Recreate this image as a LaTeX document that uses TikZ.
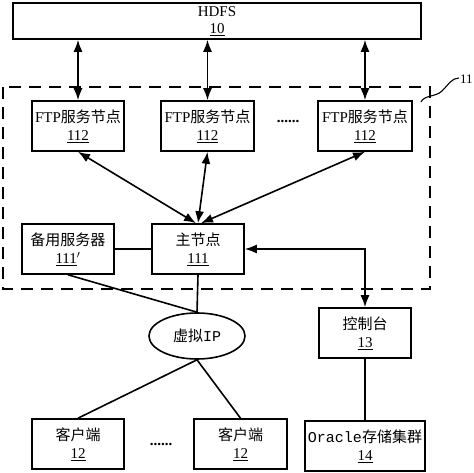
\documentclass[tikz,border=0pt]{standalone}
\usepackage{fontspec}
\setmainfont{Liberation Serif}
\newfontfamily\cjk{Noto Sans CJK SC}
\newfontfamily\monof{Liberation Mono}
\usetikzlibrary{arrows.meta,shapes.geometric}
\newcommand\zh[1]{{\cjk #1}}
\begin{document}
\begin{tikzpicture}[x=1pt,y=-1pt,
  every node/.style={font=\fontsize{15}{18.5}\selectfont},
  box/.style={draw,line width=1.6pt,rectangle,inner sep=0pt,minimum height=50pt,align=center},
  conn/.style={line width=1.6pt},
  biarrow/.style={line width=1.6pt,{Latex[length=12pt,width=9pt]}-{Latex[length=12pt,width=9pt]}},
  dashbox/.style={line width=1.6pt,dash pattern=on 12pt off 8pt}]
\useasboundingbox (0,0) rectangle (474,473);
% group 11
\draw[dashbox] (3,87) rectangle (430,289);
\draw[line width=1.1pt] (421,102) .. controls (424,95) and (436,97) .. (442,91) .. controls (449,84) and (452,78) .. (459,78);
\node[font=\fontsize{13}{15}\selectfont,anchor=west,inner sep=1pt] (lbl11) at (459,79) {11};
% nodes
\node[box,minimum width=408pt,minimum height=36pt] (hdfs) at (217,21) {HDFS\\[-1pt]\underline{10}};
\node[box,minimum width=92pt] (ftp1) at (78,126) {FTP\zh{服务节点}\\\underline{112}};
\node[box,minimum width=93pt] (ftp2) at (207.5,126) {FTP\zh{服务节点}\\\underline{112}};
\node[box,minimum width=94pt] (ftp3) at (365,126) {FTP\zh{服务节点}\\\underline{112}};
\node (dots1) at (288,121) {\textbf{......}};
\node[box,minimum width=92pt] (backup) at (68,249) {\zh{备用服务器}\\\underline{111}$'$};
\node[box,minimum width=92pt] (main) at (198,249) {\zh{主节点}\\\underline{111}};
\node[box,minimum width=92pt] (console) at (365,333) {\zh{控制台}\\\underline{13}};
\node[box,minimum width=120pt] (oracle) at (365,446) {{\monof Oracle}\zh{存储集群}\\\underline{14}};
\node[draw,line width=1.6pt,ellipse,inner sep=0pt,minimum width=96pt,minimum height=46pt] (vip) at (197,336) {\zh{虚拟}{\monof IP}};
\node[box,minimum width=92pt] (client1) at (78,444) {\zh{客户端}\\\underline{12}};
\node[box,minimum width=93pt] (client2) at (240.5,444) {\zh{客户端}\\\underline{12}};
\node (dots2) at (161,444) {\textbf{......}};
% connectors
\draw[biarrow] (ftp1.north) -- (ftp1.north |- hdfs.south);
\draw[biarrow] (ftp2.north) -- (ftp2.north |- hdfs.south);
\draw[biarrow] (ftp3.north) -- (ftp3.north |- hdfs.south);
\draw[biarrow] (ftp1.south) -- ([xshift=-2pt]main.north);
\draw[biarrow] (ftp2.south) -- (main.north);
\draw[biarrow] (ftp3.south) -- ([xshift=3pt]main.north);
\draw[biarrow] (main.east) -| (console.north);
\draw[conn] (backup.east) -- (main.west);
\draw[conn] (main.south) -- (vip.north);
\draw[conn] (backup.south) -- (vip.north);
\draw[conn] (vip.south) -- (client1.north);
\draw[conn] (vip.south) -- (client2.north);
\draw[conn] (console.south) -- (oracle.north);
\end{tikzpicture}
\end{document}
